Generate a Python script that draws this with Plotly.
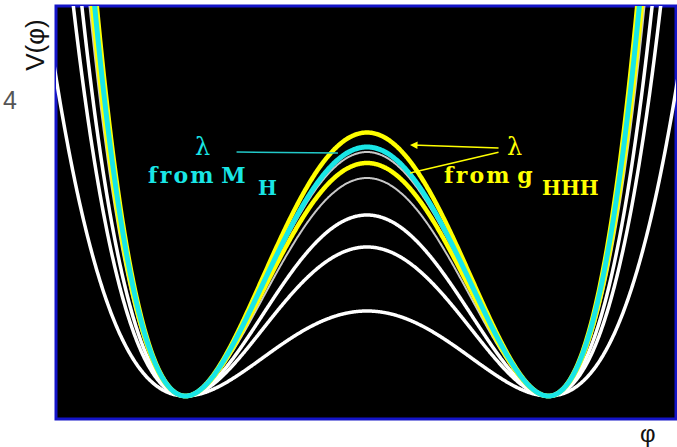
import numpy as np
import plotly.graph_objects as go

# Higgs potential V(phi) = lambda * (phi^2 - v^2)^2, family of self-couplings
v = 1.0
lambdas = [2.635, 2.49, 2.44, 2.33, 2.18, 1.81, 1.49, 0.85]
colors = ["#ffff00", "#19e6e6", "#c8c8c8", "#ffff00", "#c8c8c8", "#ffffff", "#ffffff", "#ffffff"]
widths = [4.5, 5, 2, 4.5, 2, 3.5, 3.5, 3.5]
draw_order = [7, 6, 5, 4, 2, 3, 0, 1]

phi = np.linspace(-1.75, 1.75, 701)

fig = go.Figure()
for i in draw_order:
    V = lambdas[i] * (phi**2 - v**2) ** 2
    fig.add_trace(go.Scatter(
        x=phi, y=V, mode="lines",
        line=dict(color=colors[i], width=widths[i], shape="spline"),
        hoverinfo="skip", showlegend=False,
    ))

cyan = "#19e6e6"
yellow = "#ffff00"
hs = "\u200a"  # hair space for wide lettering


def spaced(word):
    return hs.join(word)


label_font = dict(family="DejaVu Serif", size=22, weight="bold")
sub_font = dict(family="DejaVu Serif", size=20, weight="bold")

annotations = [
    # lambda from M_H
    dict(x=-0.904, y=2.49, text="λ", showarrow=False,
         font=dict(family="DejaVu Serif", size=24, color=cyan)),
    dict(x=-1.218, y=2.21, text=spaced("from") + " M", showarrow=False,
         xanchor="left", yanchor="middle", font=dict(color=cyan, **label_font)),
    dict(x=-0.612, y=2.08, text="H", showarrow=False, xanchor="left", yanchor="middle",
         font=dict(color=cyan, **sub_font)),
    dict(x=-0.16, y=2.43, ax=-0.727, ay=2.44, axref="x", ayref="y",
         text="", showarrow=True, arrowhead=0, arrowwidth=1.6, arrowcolor="#22c8c8"),
    # lambda from g_HHH
    dict(x=0.815, y=2.49, text="λ", showarrow=False,
         font=dict(family="DejaVu Serif", size=24, color=yellow)),
    dict(x=0.415, y=2.21, text=spaced("from") + " g", showarrow=False,
         xanchor="left", yanchor="middle", font=dict(color=yellow, **label_font)),
    dict(x=0.955, y=2.08, text="HHH", showarrow=False, xanchor="left",
         yanchor="middle", font=dict(color=yellow, **sub_font)),
    dict(x=0.237, y=2.51, ax=0.733, ay=2.48, axref="x", ayref="y",
         text="", showarrow=True, arrowhead=2, arrowsize=1, arrowwidth=1.5, arrowcolor=yellow),
    dict(x=0.237, y=2.23, ax=0.733, ay=2.44, axref="x", ayref="y",
         text="", showarrow=True, arrowhead=0, arrowwidth=1.5, arrowcolor=yellow),
    # axis captions
    dict(xref="paper", yref="paper", x=-0.0339, y=0.906, text="V(φ)", textangle=-90,
         xanchor="center", yanchor="middle", showarrow=False,
         font=dict(family="Liberation Sans", size=26, color="#111111")),
    dict(xref="paper", yref="paper", x=-0.074, y=0.772, text="4",
         xanchor="center", yanchor="middle", showarrow=False,
         font=dict(family="Liberation Sans", size=25, color="#555555")),
    dict(xref="paper", yref="paper", x=0.955, y=-0.036, text="φ",
         xanchor="center", yanchor="middle", showarrow=False,
         font=dict(family="Liberation Sans", size=24, color="#111111")),
]

fig.update_layout(
    width=677, height=447,
    margin=dict(l=56, r=1, t=6, b=28),
    paper_bgcolor="#ffffff",
    plot_bgcolor="#000000",
    xaxis=dict(range=[-1.7135, 1.7025], showgrid=False, zeroline=False,
               showticklabels=False, ticks=""),
    yaxis=dict(range=[-0.23, 3.90], showgrid=False, zeroline=False,
               showticklabels=False, ticks=""),
    annotations=annotations,
    shapes=[dict(type="rect", xref="paper", yref="paper", x0=0, y0=0, x1=1, y1=1,
                 line=dict(color="#1414c8", width=3), layer="below")],
)

fig.write_html("out.html")
